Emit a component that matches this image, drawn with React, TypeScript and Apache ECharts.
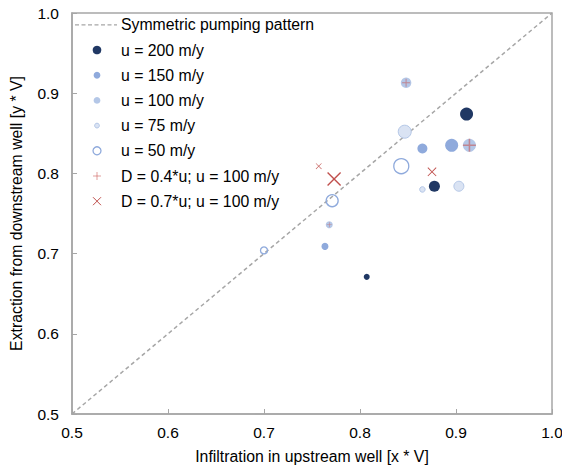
import React, { useEffect, useRef } from "react";
import * as echarts from "echarts";

// [infiltration x, extraction y, marker diameter]
const symmetricLine: number[][] = [[0.5, 0.5], [1.0, 1.0]];
const u200: number[][] = [[0.911, 0.874, 13], [0.8775, 0.784, 11], [0.807, 0.671, 6]];
const u150: number[][] = [[0.865, 0.831, 10], [0.8955, 0.835, 13], [0.7635, 0.709, 7]];
const u100: number[][] = [[0.848, 0.913, 10.5], [0.914, 0.835, 13], [0.768, 0.736, 7]];
const u75: number[][] = [[0.8466, 0.852, 13], [0.903, 0.784, 10], [0.865, 0.78, 5.5]];
const u50: number[][] = [[0.843, 0.809, 15], [0.771, 0.766, 12], [0.7, 0.704, 7]];
const d04: number[][] = [[0.848, 0.913, 8], [0.914, 0.835, 13], [0.768, 0.736, 5]];
const d07: number[][] = [[0.757, 0.809, 6], [0.773, 0.793, 14], [0.875, 0.802, 9]];

const xTicks = ["0.5", "0.6", "0.7", "0.8", "0.9", "1.0"];
const yTicks = ["0.5", "0.6", "0.7", "0.8", "0.9", "1.0"];

const legendLabels = [
  "Symmetric pumping pattern",
  "u = 200 m/y",
  "u = 150 m/y",
  "u = 100 m/y",
  "u = 75 m/y",
  "u = 50 m/y",
  "D = 0.4*u; u = 100 m/y",
  "D = 0.7*u; u = 100 m/y",
];

const C200 = "#203864";
const C150 = "#8faadc";
const C100 = "#b4c7e7";
const C75 = "#dae3f3";
const PLUS = "rgba(200,80,77,0.55)";
const CROSS = "#c0504d";
const GRAY = "#a6a6a6";
const FONT = "Liberation Sans, Arial, sans-serif";

const PLUS_PATH =
  "path://M4.4,0 L5.6,0 L5.6,10 L4.4,10 Z M0,4.4 L10,4.4 L10,5.6 L0,5.6 Z";
const X_PATH =
  "path://M0,0.7 L0.7,0 L10,9.3 L9.3,10 Z M9.3,0 L10,0.7 L0.7,10 L0,9.3 Z";

function buildLegend(): any[] {
  const els: any[] = [];
  const mx = 97;
  const tx = 121;
  const y0 = 24.8;
  const step = 25.2;
  const ys = legendLabels.map((_, i) => y0 + i * step);
  els.push({
    type: "line",
    shape: { x1: 75, y1: ys[0], x2: 117, y2: ys[0] },
    style: { stroke: GRAY, lineWidth: 1.3, lineDash: [4, 2.5] },
  });
  els.push({ type: "circle", shape: { cx: mx, cy: ys[1], r: 4.3 }, style: { fill: C200 } });
  els.push({ type: "circle", shape: { cx: mx, cy: ys[2], r: 3.4 }, style: { fill: C150 } });
  els.push({ type: "circle", shape: { cx: mx, cy: ys[3], r: 3.4 }, style: { fill: C100 } });
  els.push({
    type: "circle",
    shape: { cx: mx, cy: ys[4], r: 2.4 },
    style: { fill: C75, stroke: C100, lineWidth: 1 },
  });
  els.push({
    type: "circle",
    shape: { cx: mx, cy: ys[5], r: 4 },
    style: { fill: "none", stroke: C150, lineWidth: 1.3 },
  });
  els.push({
    type: "line",
    shape: { x1: mx - 4, y1: ys[6], x2: mx + 4, y2: ys[6] },
    style: { stroke: PLUS, lineWidth: 1 },
  });
  els.push({
    type: "line",
    shape: { x1: mx, y1: ys[6] - 4, x2: mx, y2: ys[6] + 4 },
    style: { stroke: PLUS, lineWidth: 1 },
  });
  els.push({
    type: "line",
    shape: { x1: mx - 4, y1: ys[7] - 4, x2: mx + 4, y2: ys[7] + 4 },
    style: { stroke: CROSS, lineWidth: 1 },
  });
  els.push({
    type: "line",
    shape: { x1: mx - 4, y1: ys[7] + 4, x2: mx + 4, y2: ys[7] - 4 },
    style: { stroke: CROSS, lineWidth: 1 },
  });
  legendLabels.forEach((t, i) => {
    els.push({
      type: "text",
      x: tx,
      y: ys[i],
      style: {
        text: t,
        fill: "#000",
        fontSize: 15.8,
        fontFamily: FONT,
        align: "left",
        verticalAlign: "middle",
      },
    });
  });
  return els;
}

export default function App() {
  const ref = useRef<HTMLDivElement>(null);
  useEffect(() => {
    if (!ref.current) return;
    const chart = echarts.init(ref.current, undefined, { renderer: "svg" });
    const sizeFn = (v: number[]) => v[2];
    chart.setOption({
      animation: false,
      backgroundColor: "#ffffff",
      grid: {
        left: 72,
        right: 10,
        top: 13,
        bottom: 57,
        show: true,
        borderColor: GRAY,
        borderWidth: 1.5,
        containLabel: false,
        outerBoundsMode: "none",
      },
      xAxis: {
        type: "value",
        min: 0.5,
        max: 1.0,
        interval: 0.1,
        name: "Infiltration in upstream well [x * V]",
        nameLocation: "middle",
        nameGap: 34,
        nameTextStyle: { fontSize: 15.8, fontFamily: FONT, color: "#000" },
        axisLine: { show: true, lineStyle: { color: GRAY, width: 1.5 } },
        axisTick: { show: true, inside: true, length: 5, lineStyle: { color: GRAY, width: 1 } },
        axisLabel: {
          fontSize: 15.5,
          fontFamily: FONT,
          color: "#000",
          margin: 10,
          formatter: (v: number) => xTicks[Math.round((v - 0.5) * 10)] ?? "",
        },
        splitLine: { show: false },
      },
      yAxis: {
        type: "value",
        min: 0.5,
        max: 1.0,
        interval: 0.1,
        name: "Extraction from downstream well [y * V]",
        nameLocation: "middle",
        nameGap: 48,
        nameTextStyle: { fontSize: 15.8, fontFamily: FONT, color: "#000" },
        axisLine: { show: true, lineStyle: { color: GRAY, width: 1.5 } },
        axisTick: { show: true, inside: true, length: 5, lineStyle: { color: GRAY, width: 1 } },
        axisLabel: {
          fontSize: 15.5,
          fontFamily: FONT,
          color: "#000",
          margin: 13,
          formatter: (v: number) => yTicks[Math.round((v - 0.5) * 10)] ?? "",
        },
        splitLine: { show: false },
      },
      graphic: buildLegend(),
      series: [
        {
          name: legendLabels[0],
          type: "line",
          data: symmetricLine,
          symbol: "none",
          silent: true,
          lineStyle: { color: GRAY, width: 1.5, type: [4, 3] },
          z: 1,
        },
        {
          name: legendLabels[1],
          type: "scatter",
          data: u200,
          symbol: "circle",
          symbolSize: sizeFn,
          itemStyle: { color: C200, opacity: 1 },
          z: 3,
        },
        {
          name: legendLabels[2],
          type: "scatter",
          data: u150,
          symbol: "circle",
          symbolSize: sizeFn,
          itemStyle: { color: C150, opacity: 1 },
          z: 3,
        },
        {
          name: legendLabels[3],
          type: "scatter",
          data: u100,
          symbol: "circle",
          symbolSize: sizeFn,
          itemStyle: { color: C100, opacity: 1 },
          z: 3,
        },
        {
          name: legendLabels[4],
          type: "scatter",
          data: u75,
          symbol: "circle",
          symbolSize: sizeFn,
          itemStyle: { color: C75, borderColor: C100, borderWidth: 1, opacity: 1 },
          z: 3,
        },
        {
          name: legendLabels[5],
          type: "scatter",
          data: u50,
          symbol: "circle",
          symbolSize: sizeFn,
          itemStyle: { color: "rgba(255,255,255,0)", borderColor: C150, borderWidth: 1.3, opacity: 1 },
          z: 3,
        },
        {
          name: legendLabels[6],
          type: "scatter",
          data: d04,
          symbol: PLUS_PATH,
          symbolSize: sizeFn,
          itemStyle: { color: PLUS, opacity: 1 },
          z: 4,
        },
        {
          name: legendLabels[7],
          type: "scatter",
          data: d07,
          symbol: X_PATH,
          symbolSize: sizeFn,
          itemStyle: { color: CROSS, opacity: 1 },
          z: 4,
        },
      ],
    });
    return () => chart.dispose();
  }, []);
  return (
    <div
      ref={ref}
      style={{ position: "absolute", left: 0, top: 0, width: 562, height: 471 }}
    />
  );
}
